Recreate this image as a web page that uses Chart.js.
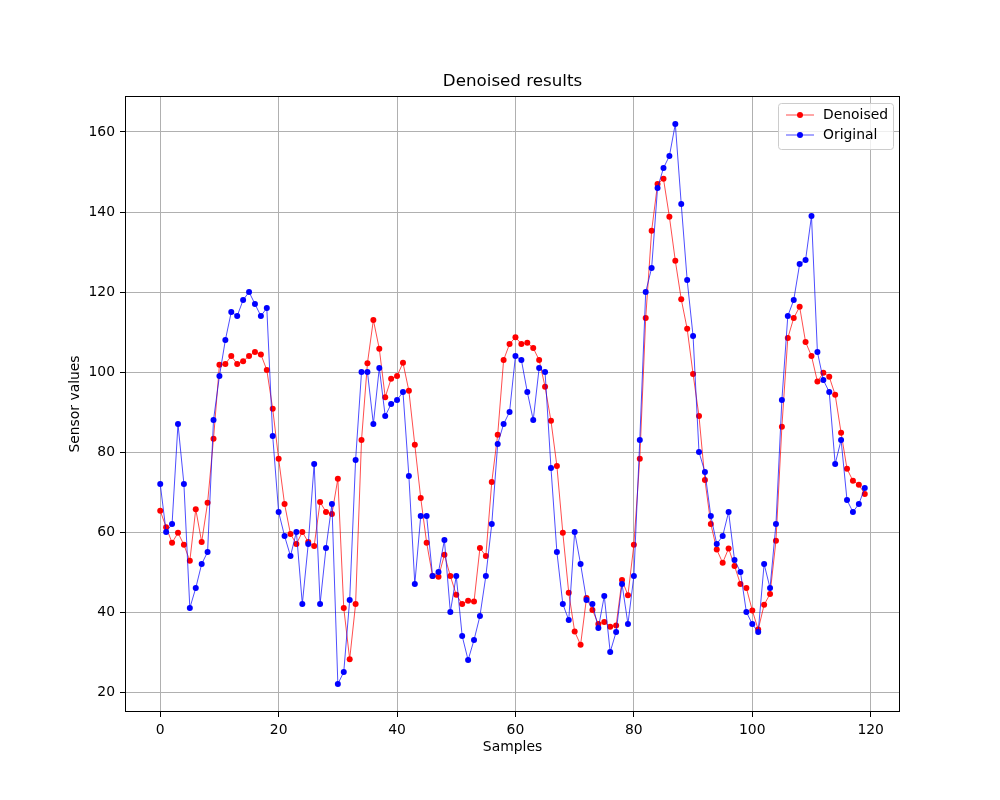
<!DOCTYPE html>
<html>
<head>
<meta charset="utf-8">
<script src="https://cdn.jsdelivr.net/npm/chart.js@4"></script>
<style>
  body { margin: 0; background: #fff; }
  canvas { display: block; }
</style>
</head>
<body>
<canvas id="grafica" width="1000" height="800"></canvas>
<script>
const denoised = [
  65.3, 61.2, 57.3, 59.8, 56.8, 52.8, 65.7, 57.5, 67.3, 83.3,
  101.8, 102, 104, 102, 102.7, 104, 105, 104.4, 100.5, 90.8,
  78.3, 67, 59.5, 57, 60, 57.5, 56.5, 67.5, 65, 64.5,
  73.3, 41, 28.2, 42, 83, 102.2, 113, 105.8, 93.7, 98.3,
  99, 102.3, 95.3, 81.8, 68.5, 57.3, 49, 48.8, 54.3, 49,
  44.3, 42, 42.8, 42.6, 56, 54, 72.5, 84.3, 103, 107,
  108.7, 107, 107.3, 106, 103, 96.3, 87.8, 76.5, 59.8, 44.8,
  35.1, 31.8, 43.5, 40.5, 37, 37.5, 36.3, 36.6, 48, 44.2,
  56.8, 78.3, 113.5, 135.3, 147, 148.3, 138.8, 127.8, 118.2, 110.8,
  99.5, 89, 73, 62, 55.6, 52.3, 55.9, 51.5, 47, 46,
  40.4, 35.6, 41.8, 44.5, 57.8, 86.3, 108.5, 113.5, 116.3, 107.5,
  104, 97.6, 99.8, 98.8, 94.3, 84.8, 75.8, 72.8, 71.8, 69.5,
];

const original = [
  72, 60, 62, 87, 72, 41, 46, 52, 55, 88,
  99, 108, 115, 114, 118, 120, 117, 114, 116, 84,
  65, 59, 54, 60, 42, 57, 77, 42, 56, 67,
  22, 25, 43, 78, 100, 100, 87, 101, 89, 92,
  93, 95, 74, 47, 64, 64, 49, 50, 58, 40,
  49, 34, 28, 33, 39, 49, 62, 82, 87, 90,
  104, 103, 95, 88, 101, 100, 76, 55, 42, 38,
  60, 52, 43, 42, 36, 44, 30, 35, 47, 37,
  49, 83, 120, 126, 146, 151, 154, 162, 142, 123,
  109, 80, 75, 64, 57, 59, 65, 53, 50, 40,
  37, 35, 52, 46, 62, 93, 114, 118, 127, 128,
  139, 105, 98, 95, 77, 83, 68, 65, 67, 71,
];

const xTicks = [0, 20, 40, 60, 80, 100, 120];
const yTicks = [20, 40, 60, 80, 100, 120, 140, 160];

const series = [
  { label: "Denoised", values: denoised, color: "#ff0000" },
  { label: "Original", values: original, color: "#0000ff" },
];

const FONT = "DejaVu Sans";

// titulo, etiquetas de ejes, marco y leyenda al estilo matplotlib
const decoracion = {
  id: "decoracion",
  afterDraw(chart) {
    const { ctx, chartArea } = chart;
    const { left, right, top, bottom } = chartArea;
    const cx = (left + right) / 2;
    ctx.save();

    ctx.strokeStyle = "#000";
    ctx.lineWidth = 1;
    ctx.strokeRect(left + 0.5, top + 0.5, right - left - 1, bottom - top - 1);

    ctx.fillStyle = "#000";
    ctx.textAlign = "center";
    ctx.textBaseline = "middle";
    ctx.font = `16.7px "${FONT}"`;
    ctx.fillText("Denoised results", cx, 82);

    ctx.font = `13.9px "${FONT}"`;
    ctx.fillText("Samples", cx, 747);
    ctx.save();
    ctx.translate(75, (top + bottom) / 2);
    ctx.rotate(-Math.PI / 2);
    ctx.fillText("Sensor values", 0, 0);
    ctx.restore();

    // leyenda
    const lx = 778, ly = 103, lw = 115, lh = 46, r = 3;
    ctx.beginPath();
    ctx.roundRect(lx + 0.5, ly + 0.5, lw, lh, r);
    ctx.fillStyle = "rgba(255,255,255,0.8)";
    ctx.fill();
    ctx.strokeStyle = "#cccccc";
    ctx.stroke();

    ctx.textAlign = "left";
    series.forEach((s, i) => {
      const y = 115 + i * 20;
      ctx.strokeStyle = s.color;
      ctx.lineWidth = 0.7;
      ctx.beginPath();
      ctx.moveTo(786, y);
      ctx.lineTo(814, y);
      ctx.stroke();
      ctx.fillStyle = s.color;
      ctx.beginPath();
      ctx.arc(800, y, 3, 0, Math.PI * 2);
      ctx.fill();
      ctx.fillStyle = "#000";
      ctx.fillText(s.label, 823, y);
    });
    ctx.restore();
  },
};

const ejeComun = {
  type: "linear",
  border: { display: false },
  grid: {
    color: "#b0b0b0",
    lineWidth: 1,
    tickColor: "#000",
    tickLength: 5,
    tickWidth: 1,
  },
  ticks: {
    color: "#000",
    padding: 5,
    font: { family: FONT, size: 13.9 },
  },
};

new Chart(document.getElementById("grafica"), {
  type: "line",
  data: {
    datasets: series.map((s, i) => ({
      label: s.label,
      data: s.values.map((v, k) => ({ x: k, y: v })),
      borderColor: s.color,
      backgroundColor: s.color,
      borderWidth: 0.7,
      pointRadius: 3,
      pointBorderWidth: 0,
      pointBackgroundColor: s.color,
      tension: 0,
      order: series.length - i,
    })),
  },
  options: {
    responsive: false,
    animation: false,
    devicePixelRatio: 1,
    layout: { padding: { top: 96, right: 100, left: 0, bottom: 0 } },
    plugins: {
      legend: { display: false },
      title: { display: false },
      tooltip: { enabled: false },
    },
    scales: {
      x: {
        ...ejeComun,
        min: -5.95,
        max: 124.95,
        afterBuildTicks: (scale) => {
          scale.ticks = xTicks.map((v) => ({ value: v }));
        },
        afterFit: (scale) => {
          scale.height = 88;
        },
        ticks: { ...ejeComun.ticks, maxRotation: 0, callback: (v) => v },
      },
      y: {
        ...ejeComun,
        min: 15,
        max: 169,
        afterBuildTicks: (scale) => {
          scale.ticks = yTicks.map((v) => ({ value: v }));
        },
        afterFit: (scale) => {
          scale.width = 125;
        },
        ticks: { ...ejeComun.ticks, callback: (v) => v },
      },
    },
  },
  plugins: [decoracion],
});
</script>
</body>
</html>
